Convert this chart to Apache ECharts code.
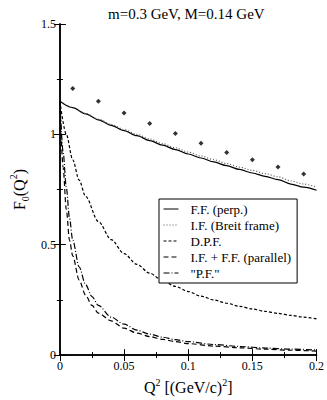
<!DOCTYPE html>
<html>
<head>
<meta charset="utf-8">
<script src="https://cdn.jsdelivr.net/npm/echarts@6/dist/echarts.min.js"></script>
<style>
  html, body { margin: 0; padding: 0; background: #fff; }
  #chart { width: 327px; height: 400px; }
</style>
</head>
<body>
<div id="chart"></div>
<script>
// x grid for the smooth curves (Q^2)
const qSlow = [0, 0.01, 0.02, 0.03, 0.04, 0.05, 0.06, 0.07, 0.08, 0.09, 0.1,
  0.11, 0.12, 0.13, 0.14, 0.15, 0.16, 0.17, 0.18, 0.19, 0.2];
const ffPerp = [1.15, 1.121, 1.093, 1.066, 1.041, 1.017, 0.994, 0.972, 0.951, 0.931, 0.911,
  0.893, 0.875, 0.858, 0.841, 0.825, 0.810, 0.795, 0.775, 0.761, 0.747];
const ifBreit = [1.15, 1.122, 1.095, 1.069, 1.045, 1.022, 1.000, 0.979, 0.958, 0.939, 0.920,
  0.902, 0.885, 0.868, 0.852, 0.837, 0.822, 0.808, 0.789, 0.775, 0.761];

const qDpf = [0, 0.005, 0.01, 0.015, 0.02, 0.03, 0.04, 0.05, 0.06, 0.07, 0.08, 0.09, 0.1,
  0.11, 0.12, 0.13, 0.14, 0.15, 0.16, 0.17, 0.18, 0.19, 0.2];
const dpf = [1.15, 1.0, 0.885, 0.793, 0.719, 0.605, 0.523, 0.46, 0.411, 0.371, 0.338, 0.311, 0.288,
  0.267, 0.25, 0.235, 0.221, 0.209, 0.198, 0.189, 0.18, 0.172, 0.164];

const qFast = [0, 0.0025, 0.005, 0.0075, 0.01, 0.015, 0.02, 0.025, 0.03, 0.04, 0.05, 0.06,
  0.07, 0.08, 0.09, 0.1, 0.12, 0.14, 0.16, 0.18, 0.2];
const ifffPar = [1.15, 0.85, 0.66, 0.52, 0.45, 0.34, 0.272, 0.225, 0.19, 0.155, 0.122, 0.1,
  0.084, 0.071, 0.061, 0.052, 0.041, 0.033, 0.027, 0.022, 0.018];
const pf = [1.15, 0.92, 0.76, 0.62, 0.52, 0.40, 0.32, 0.265, 0.225, 0.172, 0.14, 0.113,
  0.095, 0.081, 0.07, 0.061, 0.048, 0.039, 0.032, 0.027, 0.023];

// data points (diamonds)
const qPts = [0.01, 0.03, 0.05, 0.07, 0.09, 0.11, 0.13, 0.15, 0.17, 0.19];
const fPts = [1.208, 1.150, 1.097, 1.049, 1.004, 0.960, 0.918, 0.885, 0.852, 0.821];

const seriesNames = ['F.F. (perp.)', 'I.F. (Breit frame)', 'D.P.F.', 'I.F. + F.F. (parallel)', '"P.F."'];

const FONT = "'Liberation Serif', 'Times New Roman', 'DejaVu Serif', serif";

function pairs(xs, ys) {
  return xs.map((x, i) => [x, ys[i]]);
}

function lineSeries(name, xs, ys, type, color) {
  return {
    name: name,
    type: 'line',
    xAxisIndex: 0,
    yAxisIndex: 0,
    data: pairs(xs, ys),
    smooth: 0.3,
    smoothMonotone: 'x',
    symbol: 'none',
    lineStyle: { color: color, width: 1.2, type: type },
    itemStyle: { color: color }
  };
}

const chart = echarts.init(document.getElementById('chart'), null, { renderer: 'svg' });

const tickLabel = { fontFamily: FONT, fontSize: 12, color: '#000' };
const axisLine = { show: true, lineStyle: { color: '#000', width: 1.5 } };

const option = {
  animation: false,
  backgroundColor: '#fff',
  title: {
    text: 'm=0.3 GeV, M=0.14 GeV',
    left: 103,
    top: 1,
    textStyle: { fontFamily: FONT, fontSize: 15, fontWeight: 'normal', color: '#000' }
  },
  grid: { left: 47, right: 8, top: 24, bottom: 37 },
  legend: {
    data: seriesNames,
    orient: 'vertical',
    left: 159,
    top: 199,
    padding: [3, 6, 3, 4],
    itemWidth: 15,
    itemHeight: 14,
    itemGap: 2,
    borderColor: '#000',
    borderWidth: 1,
    backgroundColor: '#fff',
    itemStyle: { color: 'rgba(0,0,0,0)', borderWidth: 0, opacity: 0 },
    lineStyle: { width: 1 },
    textStyle: { fontFamily: FONT, fontSize: 13, color: '#000', lineHeight: 14, padding: [0, 0, 0, 7] }
  },
  xAxis: [
    {
      type: 'value',
      min: 0,
      max: 0.2,
      interval: 0.05,
      position: 'bottom',
      name: '{b|Q}{sup|2}{b| [(GeV/c)}{sup|2}{b|]}',
      nameLocation: 'middle',
      nameGap: 10,
      nameTextStyle: {
        rich: {
          b: { fontFamily: FONT, fontSize: 16, color: '#000', lineHeight: 20 },
          sup: { fontFamily: FONT, fontSize: 10, color: '#000', verticalAlign: 'top' }
        }
      },
      axisLine: axisLine,
      axisTick: { inside: true, length: 6, lineStyle: { color: '#000' } },
      minorTick: { show: true, splitNumber: 2, length: 3, lineStyle: { color: '#000' } },
      axisLabel: Object.assign({ margin: 5 }, tickLabel),
      splitLine: { show: false }
    },
    {
      type: 'value',
      min: 0,
      max: 0.2,
      interval: 0.05,
      position: 'top',
      axisLine: axisLine,
      axisTick: { inside: true, length: 6, lineStyle: { color: '#000' } },
      minorTick: { show: true, splitNumber: 2, length: 3, lineStyle: { color: '#000' } },
      axisLabel: { show: false },
      splitLine: { show: false }
    }
  ],
  yAxis: [
    {
      type: 'value',
      min: 0,
      max: 1.5,
      interval: 0.5,
      position: 'left',
      name: '{b|F}{sub|0}{b|(Q}{sup|2}{b|)}',
      nameLocation: 'middle',
      nameRotate: 90,
      nameGap: 28,
      nameTextStyle: {
        rich: {
          b: { fontFamily: FONT, fontSize: 16, color: '#000', lineHeight: 22 },
          sup: { fontFamily: FONT, fontSize: 10, color: '#000', verticalAlign: 'top' },
          sub: { fontFamily: FONT, fontSize: 10, color: '#000', verticalAlign: 'bottom' }
        }
      },
      axisLine: axisLine,
      axisTick: { inside: true, length: 6, lineStyle: { color: '#000' } },
      minorTick: { show: true, splitNumber: 2, length: 3, lineStyle: { color: '#000' } },
      axisLabel: Object.assign({ margin: 4 }, tickLabel),
      splitLine: { show: false }
    },
    {
      type: 'value',
      min: 0,
      max: 1.5,
      interval: 0.5,
      position: 'right',
      axisLine: axisLine,
      axisTick: { inside: true, length: 6, lineStyle: { color: '#000' } },
      minorTick: { show: true, splitNumber: 2, length: 3, lineStyle: { color: '#000' } },
      axisLabel: { show: false },
      splitLine: { show: false }
    }
  ],
  series: [
    lineSeries(seriesNames[0], qSlow, ffPerp, 'solid', '#000'),
    lineSeries(seriesNames[1], qSlow, ifBreit, [1, 2], '#555'),
    lineSeries(seriesNames[2], qDpf, dpf, [3, 2], '#000'),
    lineSeries(seriesNames[3], qFast, ifffPar, [5, 3], '#000'),
    lineSeries(seriesNames[4], qFast, pf, [6, 2, 1, 2], '#000'),
    {
      name: 'points',
      type: 'scatter',
      xAxisIndex: 0,
      yAxisIndex: 0,
      data: pairs(qPts, fPts),
      symbol: 'diamond',
      symbolSize: 5,
      itemStyle: { color: '#000' }
    }
  ]
};

chart.setOption(option);
</script>
</body>
</html>
